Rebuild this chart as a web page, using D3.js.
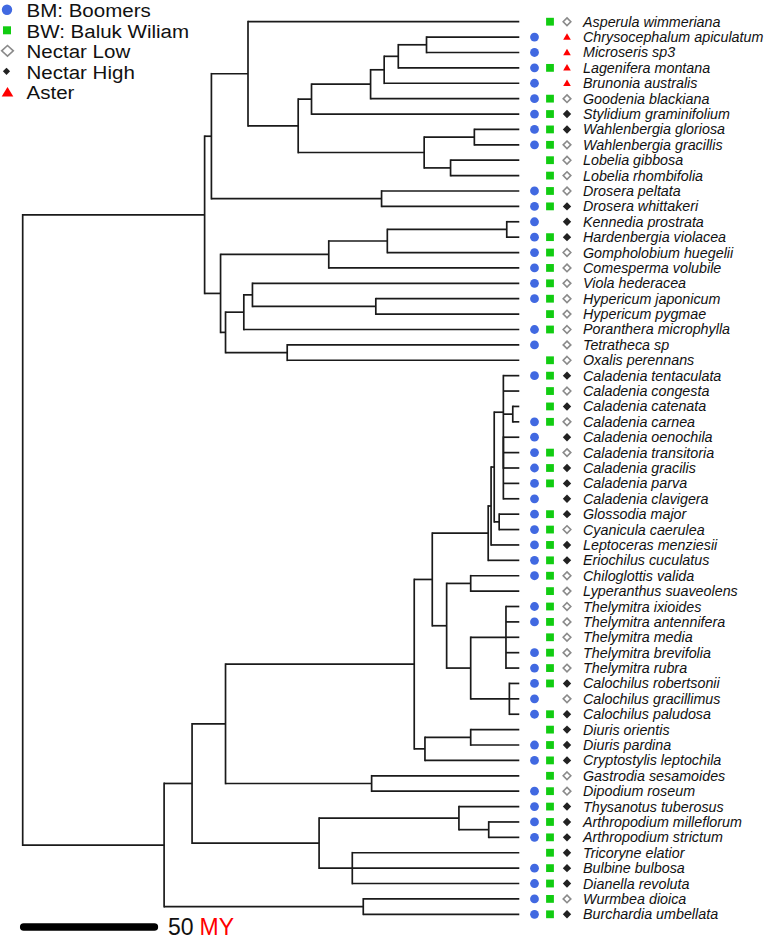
<!DOCTYPE html>
<html>
<head>
<meta charset="utf-8">
<script src="https://cdn.jsdelivr.net/npm/d3@7/dist/d3.min.js"></script>
<style>
  html, body { margin: 0; padding: 0; background: #fff; }
  svg { display: block; }
</style>
</head>
<body>
<svg id="chart" width="766" height="940"></svg>
<script>
// ---------------- DATA ----------------
const species = [
  "Asperula wimmeriana", "Chrysocephalum apiculatum", "Microseris sp3", "Lagenifera montana",
  "Brunonia australis", "Goodenia blackiana", "Stylidium graminifolium", "Wahlenbergia gloriosa",
  "Wahlenbergia gracillis", "Lobelia gibbosa", "Lobelia rhombifolia", "Drosera peltata",
  "Drosera whittakeri", "Kennedia prostrata", "Hardenbergia violacea", "Gompholobium huegelii",
  "Comesperma volubile", "Viola hederacea", "Hypericum japonicum", "Hypericum pygmae",
  "Poranthera microphylla", "Tetratheca sp", "Oxalis perennans", "Caladenia tentaculata",
  "Caladenia congesta", "Caladenia catenata", "Caladenia carnea", "Caladenia oenochila",
  "Caladenia transitoria", "Caladenia gracilis", "Caladenia parva", "Caladenia clavigera",
  "Glossodia major", "Cyanicula caerulea", "Leptoceras menziesii", "Eriochilus cuculatus",
  "Chiloglottis valida", "Lyperanthus suaveolens", "Thelymitra ixioides", "Thelymitra antennifera",
  "Thelymitra media", "Thelymitra brevifolia", "Thelymitra rubra", "Calochilus robertsonii",
  "Calochilus gracillimus", "Calochilus paludosa", "Diuris orientis", "Diuris pardina",
  "Cryptostylis leptochila", "Gastrodia sesamoides", "Dipodium roseum", "Thysanotus tuberosus",
  "Arthropodium milleflorum", "Arthropodium strictum", "Tricoryne elatior", "Bulbine bulbosa",
  "Dianella revoluta", "Wurmbea dioica", "Burchardia umbellata"
];

// BM: Boomers presence (1 = present)
const boomers = [
  0,1,1,1,1,1,1,1,1,0, 0,1,1,1,1,1,1,1,1,0,
  1,1,0,1,0,0,1,1,1,1, 1,1,1,1,1,1,1,0,1,1,
  0,1,1,1,1,1,0,1,1,0, 1,1,1,1,0,1,1,1,1
];
// BW: Baluk Wiliam presence
const balukWiliam = [
  1,0,0,1,0,1,1,1,1,1, 1,1,1,0,1,1,1,1,1,1,
  1,0,1,1,1,1,1,0,1,1, 1,0,1,1,1,1,1,1,1,1,
  1,1,1,1,0,1,1,1,1,1, 1,1,1,1,1,1,1,1,1
];
// Nectar: L = low, H = high, A = Aster
const nectar = [
  "L","A","A","A","A","L","H","H","L","L", "L","L","H","H","H","L","L","L","L","L",
  "L","L","L","H","L","H","L","H","L","H", "H","H","H","L","H","H","L","L","L","L",
  "L","L","L","H","L","H","H","H","H","L", "L","H","H","H","H","H","H","L","H"
];

const legendItems = ["BM: Boomers", "BW: Baluk Wiliam", "Nectar Low", "Nectar High", "Aster"];
const scaleBarMY = 50;
const scaleLabel = ["50", "MY"];

// Tree: leaves are species indices; internal labels are node ages (million years)
const eudicots =
  "(((0,((((((1,2)35.5,3)46.3,4)51.7,5)56.9,6)79.5,((7,8)17.2,(9,10)26.3)36.4)84.6)103.8,(11,12)52.7)117.8," +
  "((((13,14)4.8,15)50.5,16)72.9,(((17,(18,19)54.9)102.1,20)105.4,(21,22)88.8)112.4)114.3)120.4";
const orchids =
  "(((((((23,24,(25,26)2.5,(27,28,29,30,31)6.1)6.1,(32,33)7.7)9.6,34)10.8,35)11.9," +
  "((36,37)18.6,((38,39,40,41,42)5.1,(43,44,45)3.8)18.6)27.8)33.3,((46,47)18.6,48)36.1)40.2,(49,50)56.5)112.4";
const otherMonocots = "((51,(52,53)11.7)23.1,(54,55,56)63.9)76.6";
const monocots = "((" + orchids + "," + otherMonocots + ")125.2,(57,58)59.7)135.9";
const treeNewick = "(" + eudicots + "," + monocots + ")190";

// ---------------- PARSE ----------------
function parseNewick(s) {
  let i = 0;
  function node() {
    const n = {};
    if (s[i] === "(") {
      i++;
      n.children = [];
      do { n.children.push(node()); } while (s[i++] === ",");
    }
    let lab = "";
    while (i < s.length && !",()".includes(s[i])) lab += s[i++];
    if (n.children) { n.age = +lab; } else { n.leaf = +lab; n.age = 0; }
    return n;
  }
  return node();
}

const root = d3.hierarchy(parseNewick(treeNewick));

// ---------------- SCALES ----------------
const x = d3.scaleLinear().domain([190, 0]).range([22.7, 519.3]);
const y = d3.scaleLinear().domain([0, species.length - 1]).range([21.7, 914.3]);

let order = 0;
root.eachBefore(d => { if (!d.children) d.yIndex = order++; });
root.eachAfter(d => {
  d.px = x(d.data.age);
  d.py = d.children ? d3.mean(d.children, c => c.py) : y(d.yIndex);
});

const svg = d3.select("#chart");
const font = "'Liberation Sans', Arial, Helvetica, sans-serif";

// ---------------- TREE ----------------
const treeG = svg.append("g")
  .attr("fill", "none").attr("stroke", "#1a1a1a").attr("stroke-width", 1.7)
  .attr("stroke-linecap", "square");

root.descendants().filter(d => d.children).forEach(d => {
  const ys = d.children.map(c => c.py);
  treeG.append("line")
    .attr("x1", d.px).attr("x2", d.px)
    .attr("y1", d3.min(ys)).attr("y2", d3.max(ys));
});
root.descendants().filter(d => d.parent).forEach(d => {
  treeG.append("line")
    .attr("x1", d.parent.px).attr("x2", d.px)
    .attr("y1", d.py).attr("y2", d.py)
    .attr("stroke-linecap", "butt");
});

// ---------------- TRAIT MARKERS ----------------
const colBM = 534.5, colBW = 550, colN = 567, labelX = 583;
const blue = "#4169e1", green = "#11cc11", red = "#ff0000", grey = "#8a8a8a", dark = "#222";

function diamond(cx, cy, hw, hh) {
  return `M${cx},${cy - hh}L${cx + hw},${cy}L${cx},${cy + hh}L${cx - hw},${cy}Z`;
}
function triangle(cx, cy, hw, h) {
  return `M${cx},${cy - h / 2}L${cx + hw},${cy + h / 2}L${cx - hw},${cy + h / 2}Z`;
}

const leaves = root.leaves();
const markG = svg.append("g");
leaves.forEach(d => {
  const k = d.data.leaf;
  const cy = d.py;
  if (boomers[k]) markG.append("circle").attr("cx", colBM).attr("cy", cy).attr("r", 4.4).attr("fill", blue);
  if (balukWiliam[k]) markG.append("rect").attr("x", colBW - 3.9).attr("y", cy - 3.9)
    .attr("width", 7.8).attr("height", 7.8).attr("fill", green);
  if (nectar[k] === "L") markG.append("path").attr("d", diamond(colN, cy, 3.8, 3.8))
    .attr("fill", "#fff").attr("stroke", grey).attr("stroke-width", 1.6);
  else if (nectar[k] === "H") markG.append("path").attr("d", diamond(colN, cy, 4.2, 4.2)).attr("fill", dark);
  else if (nectar[k] === "A") markG.append("path").attr("d", triangle(colN, cy - 0.5, 3.8, 6.5)).attr("fill", red);
});

// ---------------- LABELS ----------------
svg.append("g").selectAll("text").data(leaves).join("text")
  .attr("x", labelX).attr("y", d => d.py + 5)
  .attr("font-family", font).attr("font-style", "italic").attr("font-size", "14.3px")
  .attr("fill", "#111")
  .text(d => species[d.data.leaf]);

// ---------------- LEGEND ----------------
const legG = svg.append("g");
legendItems.forEach((t, i) => {
  const base = 17.3 + i * 20.5;
  const my = base - 7.5;
  if (i === 0) legG.append("circle").attr("cx", 7).attr("cy", my).attr("r", 5.2).attr("fill", blue);
  if (i === 1) legG.append("rect").attr("x", 3).attr("y", my - 4).attr("width", 8).attr("height", 8).attr("fill", green);
  if (i === 2) legG.append("path").attr("d", diamond(7.5, my, 5.8, 5.3)).attr("fill", "#fff").attr("stroke", grey).attr("stroke-width", 1.6);
  if (i === 3) legG.append("path").attr("d", diamond(6.5, my, 3.6, 3.6)).attr("fill", dark);
  if (i === 4) legG.append("path").attr("d", triangle(7.5, my, 5.8, 9.6)).attr("fill", red);
  legG.append("text")
    .attr("transform", `translate(26.5,${base}) scale(1.08,1)`)
    .attr("font-family", font).attr("font-size", "19px").attr("fill", "#111")
    .text(t);
});

// ---------------- SCALE BAR ----------------
const barX0 = x(190) + 1;
const barLen = x(0) - x(scaleBarMY);
svg.append("line")
  .attr("x1", barX0).attr("x2", barX0 + barLen)
  .attr("y1", 927).attr("y2", 927)
  .attr("stroke", "#000").attr("stroke-width", 7.5).attr("stroke-linecap", "round");
svg.append("text").attr("x", 168).attr("y", 935)
  .attr("font-family", font).attr("font-size", "23px").attr("fill", "#111")
  .text(scaleLabel[0]);
svg.append("text").attr("x", 199.5).attr("y", 935)
  .attr("font-family", font).attr("font-size", "23px").attr("fill", red)
  .text(scaleLabel[1]);
</script>
</body>
</html>
